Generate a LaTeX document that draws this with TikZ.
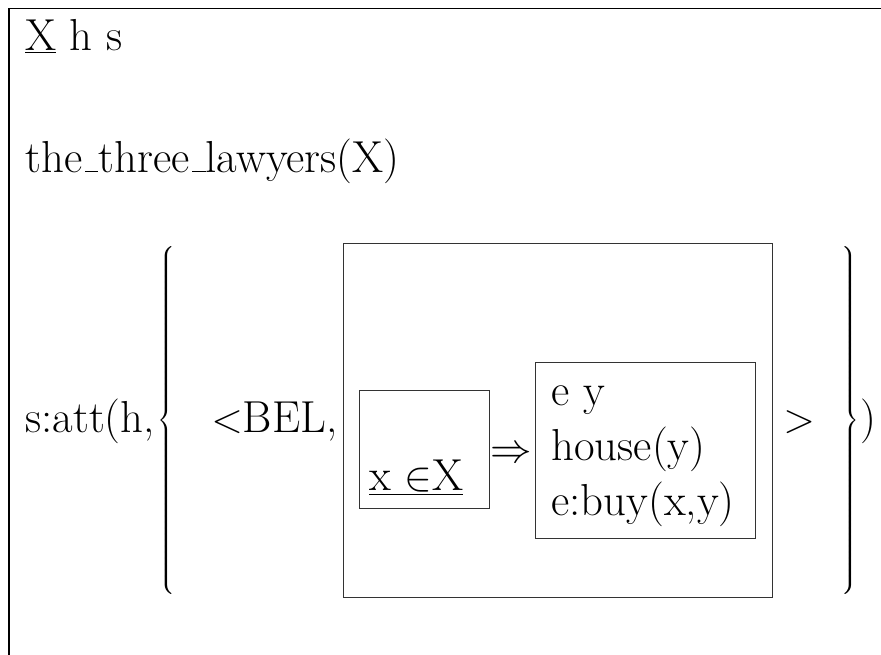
\documentclass[tikz,border=0pt]{standalone}
\newcommand\usc{\kern.06em\vbox{\hrule width.3em}}
\tikzset{
  txt/.style={anchor=base west, inner sep=0pt, font=\fontsize{22.4}{26}\selectfont},
  brc/.style={inner sep=0pt, font=\fontsize{22.4}{26}\selectfont},
  boxline/.style={draw=black!80, line width=0.5pt, rectangle, inner sep=0pt},
}
\begin{document}
\begin{tikzpicture}[x=0.5pt,y=-0.5pt]
\useasboundingbox (0,0) rectangle (881,654);
\coordinate (fb) at (9,660);
\coordinate (fc) at (9,8.5);
\coordinate (fr) at (890,8.5);
\draw[line width=0.6pt] (fb) -- (fc) -- (fr);
\node[txt] (hdr) at (25,50) {\underline{X} h s};
\node[txt] (law) at (25,172) {the\usc three\usc lawyers(X)};
\node[txt] (att) at (25,432) {s:att(h,};
\node[brc, anchor=west] (lbrace) at (157,421) {$\left\{\vrule height 82pt depth 82pt width 0pt\right.$};
\node[txt] (bel) at (211,432) {$<$BEL,};
\node[boxline, minimum width=214.5pt, minimum height=177pt] (big) at (557.5,420) {};
\node[boxline, minimum width=65pt, minimum height=59pt] (ante) at (424,449) {};
\node[txt] (xin) at (369,490) {\underline{x $\in$X}};
\node[txt] (impl) at (490,462) {$\Rightarrow$};
\node[boxline, minimum width=110pt, minimum height=88pt] (cons) at (645,450) {};
\node[txt] (l1) at (551,405) {e y};
\node[txt] (l2) at (551,460) {house(y)};
\node[txt] (l3) at (551,515) {e:buy(x,y)};
\node[txt] (gt) at (783,432) {$>$};
\node[brc, anchor=east] (rbrace) at (860,421) {$\left.\vrule height 82pt depth 82pt width 0pt\right\}$};
\node[txt] (close) at (860,432) {)};
\end{tikzpicture}
\end{document}
